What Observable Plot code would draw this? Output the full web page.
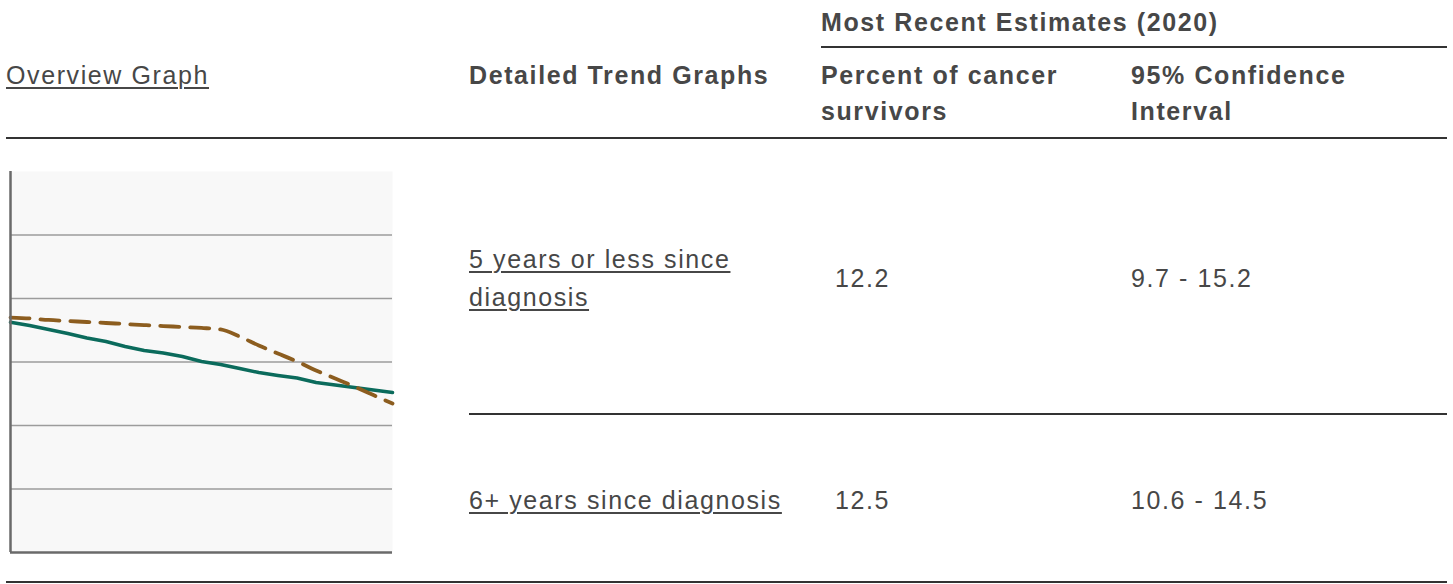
<!DOCTYPE html>
<html>
<head>
<meta charset="utf-8">
<script src="https://cdn.jsdelivr.net/npm/d3@7"></script>
<script src="https://cdn.jsdelivr.net/npm/@observablehq/plot@0.6"></script>
<style>
  html, body { margin: 0; padding: 0; background: #fff; }
  #page { position: relative; width: 1453px; height: 584px; overflow: hidden;
          font-family: "Liberation Sans", Arial, sans-serif; font-size: 25px;
          letter-spacing: 1.6px; color: #474747; }
  .t { position: absolute; white-space: nowrap; line-height: 36px; }
  .b { font-weight: bold; }
  .u { text-decoration: underline; text-decoration-thickness: 1.5px; text-underline-offset: 3px; }
  .hr { position: absolute; height: 2px; background: #333; }
  #chart { position: absolute; left: 0; top: 165px; }
</style>
</head>
<body>
<div id="page"></div>
<script>
// ---- data ----
const years = [2000, 2001, 2002, 2003, 2004, 2005, 2006, 2007, 2008, 2009, 2010,
               2011, 2012, 2013, 2014, 2015, 2016, 2017, 2018, 2019, 2020];
const observed = [18.13, 17.87, 17.56, 17.24, 16.89, 16.61, 16.22, 15.91, 15.71, 15.43, 15.04,
                  14.80, 14.49, 14.17, 13.94, 13.74, 13.39, 13.19, 12.99, 12.80, 12.60];
const modeled = [18.50, 18.43, 18.31, 18.23, 18.15, 18.07, 17.99, 17.91, 17.83, 17.76, 17.68,
                 17.56, 17.00, 16.30, 15.67, 15.04, 14.33, 13.70, 13.07, 12.40, 11.73];
const gridTicks = [5, 10, 15, 20, 25];
const yDomain = [0, 30];

const headerOverview = "Overview Graph";
const headerDetailed = "Detailed Trend Graphs";
const headerRecent = "Most Recent Estimates (2020)";
const headerPercent = ["Percent of cancer", "survivors"];
const headerCI = ["95% Confidence", "Interval"];
const rowLabels = [["5 years or less since", "diagnosis"], ["6+ years since diagnosis"]];
const percents = ["12.2", "12.5"];
const intervals = ["9.7 - 15.2", "10.6 - 14.5"];

// ---- table layout ----
const page = document.getElementById("page");
// place text block; yc = vertical centre of its first line
function text(html, x, yc, cls, lh) {
  lh = lh || 36;
  const d = document.createElement("div");
  d.className = "t " + (cls || "");
  d.innerHTML = html;
  d.style.left = x + "px";
  d.style.lineHeight = lh + "px";
  d.style.top = (yc - lh / 2) + "px";
  page.appendChild(d);
  return d;
}
function hr(x1, x2, y) {
  const d = document.createElement("div");
  d.className = "hr";
  d.style.left = x1 + "px";
  d.style.width = (x2 - x1) + "px";
  d.style.top = (y - 1) + "px";
  page.appendChild(d);
}

text(headerRecent, 821, 22, "b");
hr(821, 1447, 47);
text(headerOverview, 6, 75, "u");
text(headerDetailed, 469, 75, "b");
text(headerPercent.join("<br>"), 821, 75, "b");
text(headerCI.join("<br>"), 1131, 75, "b");
hr(6, 1447, 138);

const rowCenters = [278, 500];
rowLabels.forEach((lines, i) => {
  const lh = 38;
  const first = rowCenters[i] - (lines.length - 1) * lh / 2;
  text(lines.map(s => `<span class="u">${s}</span>`).join("<br>"), 469, first, "", lh);
  text(percents[i], 835, rowCenters[i], "");
  text(intervals[i], 1131, rowCenters[i], "");
});
hr(469, 1447, 414);
hr(6, 1447, 582);

// ---- sparkline chart ----
const rows = years.flatMap((yr, i) => [
  {year: yr, value: observed[i], series: "observed"},
  {year: yr, value: modeled[i], series: "modeled"}
]);

const chart = Plot.plot({
  width: 400,
  height: 391,
  marginLeft: 10,
  marginRight: 8,
  marginTop: 6,
  marginBottom: 4,
  x: {domain: [years[0], years[years.length - 1]], axis: null},
  y: {domain: yDomain, axis: null},
  marks: [
    Plot.frame({fill: "#f8f8f8", stroke: null}),
    Plot.ruleY(gridTicks, {stroke: "#9c9c9c", strokeWidth: 1.5}),
    Plot.line(rows.filter(d => d.series === "observed"),
      {x: "year", y: "value", stroke: "#0b6b5c", strokeWidth: 3.5, curve: "linear"}),
    Plot.line(rows.filter(d => d.series === "modeled"),
      {x: "year", y: "value", stroke: "#8c5d1f", strokeWidth: 3.8, strokeDasharray: "19,11", curve: "monotone-x"}),
    Plot.ruleX([years[0]], {stroke: "#6a6a6a", strokeWidth: 2.5}),
    Plot.ruleY([yDomain[0]], {stroke: "#6a6a6a", strokeWidth: 2.5})
  ]
});
chart.id = "chart";
page.appendChild(chart);
</script>
</body>
</html>
